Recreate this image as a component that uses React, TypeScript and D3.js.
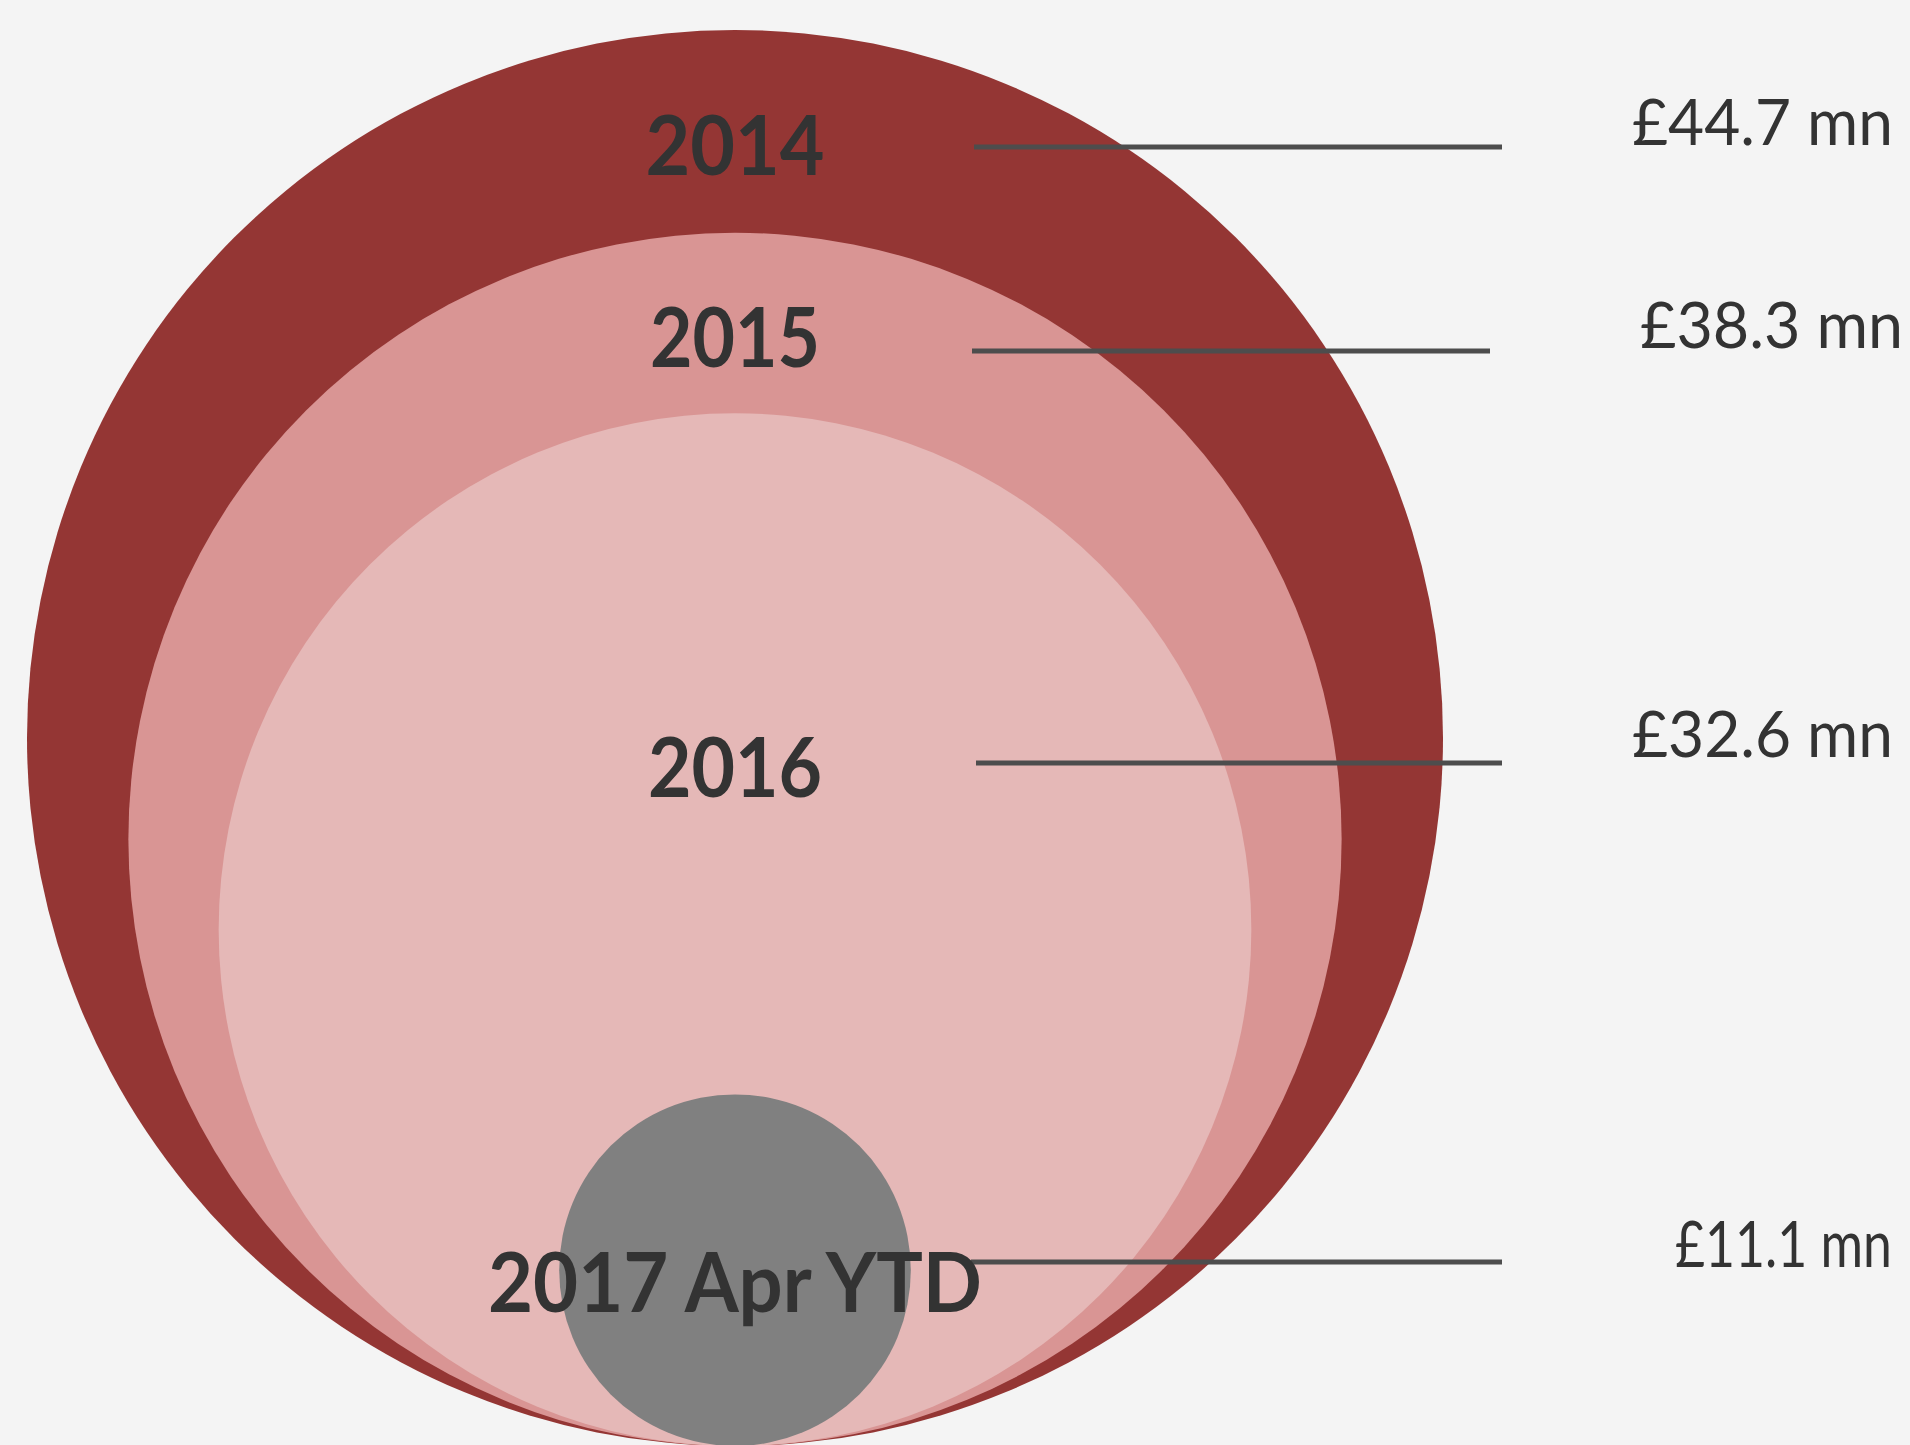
import React from "react";
import * as d3 from "d3";

// ---- data ----
const years: string[] = ["2014", "2015", "2016", "2017 Apr YTD"];
const values: number[] = [44.7, 38.3, 32.6, 11.1];
const valueLabels: string[] = ["£44.7 mn", "£38.3 mn", "£32.6 mn", "£11.1 mn"];
const colors: string[] = ["#943634", "#D99594", "#E5B8B7", "#808080"];

// ---- layout (not data) ----
const W = 1910;
const H = 1445;
const CX = 735;
const BOTTOM = 1446;
const R_MAX = 708;
const lineY = [147, 351, 763, 1262];
const lineX0 = [974, 972, 976, 971];
const lineX1 = [1502, 1490, 1502, 1502];
const yearBaseline = [175, 367, 797, 1312];
const yearWidth = [179, 170, 174, 494];
const valueRight = [1893, 1903, 1893, 1892];
const valueBaseline = [145, 348, 757, 1267];
const valueWidth = [261, 263, 261, 217];

export default function App() {
  const r = d3.scaleLinear().domain([0, d3.max(values) as number]).range([0, R_MAX]);
  return (
    <svg
      width={W}
      height={H}
      style={{ position: "absolute", left: 0, top: 0, background: "#F4F4F4" }}
    >
      <rect x={0} y={0} width={W} height={H} fill="#F4F4F4" />
      {values.map((v, i) => (
        <circle key={"c" + i} cx={CX} cy={BOTTOM - r(v)} r={r(v)} fill={colors[i]} />
      ))}
      {values.map((v, i) => (
        <line
          key={"l" + i}
          x1={lineX0[i]}
          x2={lineX1[i]}
          y1={lineY[i]}
          y2={lineY[i]}
          stroke="#4d4d4d"
          strokeWidth={5}
        />
      ))}
      {years.map((y, i) => (
        <text
          key={"y" + i}
          x={CX}
          y={yearBaseline[i]}
          textAnchor="middle"
          fontFamily="Lato, 'Open Sans', sans-serif"
          fontWeight="bold"
          fontSize={82}
          fill="#333333"
          textLength={yearWidth[i]}
          lengthAdjust="spacingAndGlyphs"
        >
          {y}
        </text>
      ))}
      {valueLabels.map((t, i) => (
        <text
          key={"v" + i}
          x={valueRight[i]}
          y={valueBaseline[i]}
          textAnchor="end"
          fontFamily="Lato, 'Open Sans', sans-serif"
          fontSize={64}
          fill="#333333"
          textLength={valueWidth[i]}
          lengthAdjust="spacingAndGlyphs"
        >
          {t}
        </text>
      ))}
    </svg>
  );
}
